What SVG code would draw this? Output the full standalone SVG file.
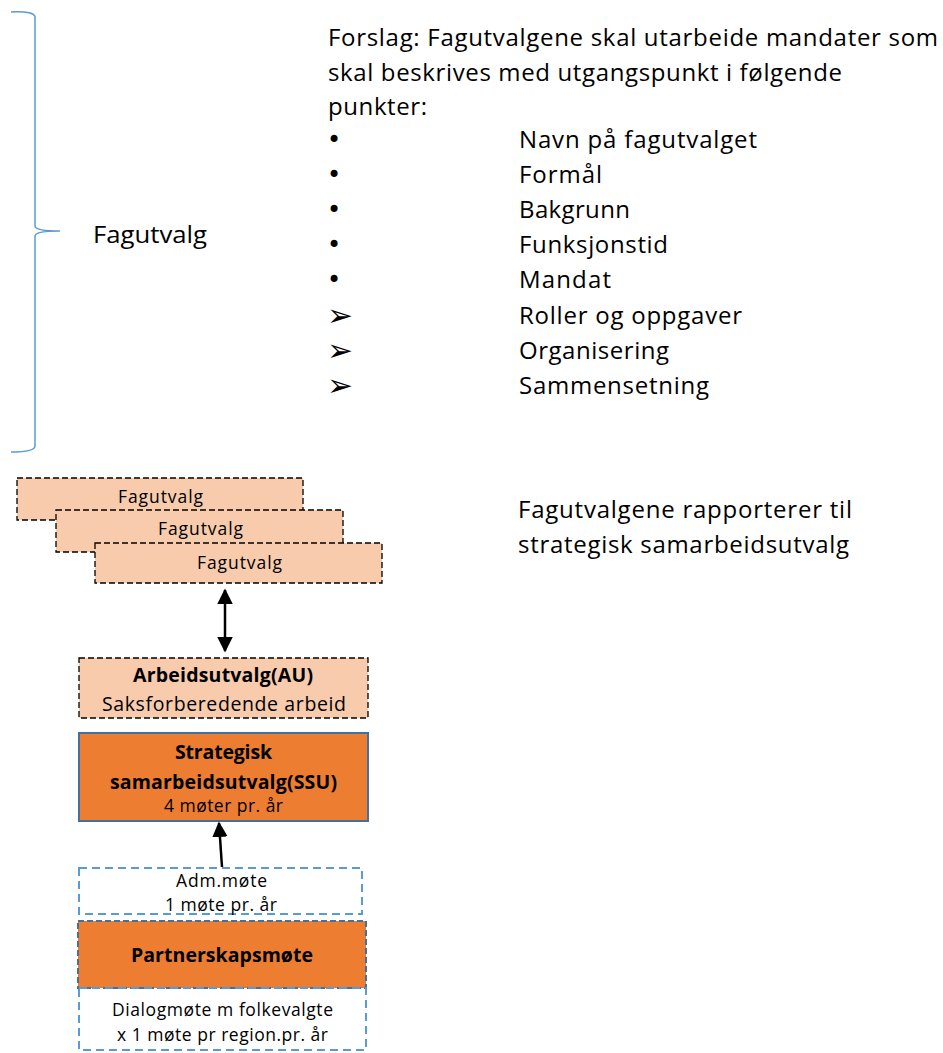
<svg xmlns="http://www.w3.org/2000/svg" width="943" height="1053" viewBox="0 0 943 1053">
<defs>
<style>
text{font-family:"Open Sans",Lato,"Liberation Sans",sans-serif;fill:#000}
.big{font-size:24px}
.mid{font-size:19.5px}
.sm{font-size:17.5px}
.b{font-weight:bold}
.dot{font-family:"DejaVu Sans",sans-serif;font-size:24px}
.arw{font-family:"DejaVu Sans",sans-serif;font-size:31px}
.fag{fill:#F8CBAD;stroke:#000;stroke-width:1.3;stroke-dasharray:6,3}
.org{fill:#ED7D31;stroke:#41719C;stroke-width:2}
.blue{fill:none;stroke:#5B9BD5;stroke-width:2;stroke-dasharray:8,5}
</style>
<marker id="ah" viewBox="0 0 10 10" refX="9" refY="5" markerWidth="6.2" markerHeight="6.4" orient="auto-start-reverse" markerUnits="strokeWidth">
<path d="M0,0 L10,5 L0,10 z" fill="#000"/>
</marker>
</defs>
<rect width="943" height="1053" fill="#fff"/>
<g id="brace">
<path d="M11,12 Q35,11 35,17 L35,226 Q35,231 60,231 Q35,231 35,236 L35,446 Q35,452 11,452" fill="none" stroke="#5B9BD5" stroke-width="1.5"/>
<text class="big" x="93" y="243" textLength="114" lengthAdjust="spacingAndGlyphs">Fagutvalg</text>
</g>
<g id="forslag" class="big">
<text x="328" y="46" textLength="610">Forslag: Fagutvalgene skal utarbeide mandater som</text>
<text x="328" y="81" textLength="514">skal beskrives med utgangspunkt i følgende</text>
<text x="328" y="115" textLength="99">punkter:</text>
<text class="dot" x="327" y="148">•</text><text x="519" y="148" textLength="238">Navn på fagutvalget</text>
<text class="dot" x="327" y="183">•</text><text x="519" y="183" textLength="83">Formål</text>
<text class="dot" x="327" y="218">•</text><text x="519" y="218" textLength="111">Bakgrunn</text>
<text class="dot" x="327" y="253">•</text><text x="519" y="253" textLength="149">Funksjonstid</text>
<text class="dot" x="327" y="288">•</text><text x="519" y="288" textLength="92">Mandat</text>
<text class="arw" x="327" y="326">➢</text><text x="519" y="324" textLength="223">Roller og oppgaver</text>
<text class="arw" x="327" y="361">➢</text><text x="519" y="359" textLength="150">Organisering</text>
<text class="arw" x="327" y="396">➢</text><text x="519" y="394" textLength="190">Sammensetning</text>
</g>
<g id="rapport" class="big">
<text x="518" y="518" textLength="334">Fagutvalgene rapporterer til</text>
<text x="518" y="553" textLength="331">strategisk samarbeidsutvalg</text>
</g>
<g id="fagutvalg1">
<rect class="fag" x="17" y="478" width="286" height="42"/>
<text class="sm" x="118" y="503" textLength="85">Fagutvalg</text>
</g>
<g id="fagutvalg2">
<rect class="fag" x="56" y="510" width="287" height="42"/>
<text class="sm" x="158" y="535" textLength="85">Fagutvalg</text>
</g>
<g id="fagutvalg3">
<rect class="fag" x="95" y="543" width="287" height="40"/>
<text class="sm" x="197" y="569" textLength="85">Fagutvalg</text>
</g>
<g id="au">
<rect class="fag" x="79" y="658" width="289" height="60"/>
<text class="mid b" x="133" y="682" textLength="180">Arbeidsutvalg(AU)</text>
<text class="mid" x="102" y="711" textLength="244">Saksforberedende arbeid</text>
</g>
<g id="ssu">
<rect class="org" x="79" y="733" width="289" height="88"/>
<text class="mid b" x="175" y="759" textLength="97">Strategisk</text>
<text class="mid b" x="110" y="789" textLength="227">samarbeidsutvalg(SSU)</text>
<text class="sm" x="164" y="812" textLength="119">4 møter pr. år</text>
</g>
<g id="adm">
<rect class="blue" x="79" y="868" width="283" height="46"/>
<text class="sm" x="176" y="887" textLength="91">Adm.møte</text>
<text class="sm" x="165" y="911" textLength="112">1 møte pr. år</text>
</g>
<g id="partner">
<rect x="78" y="921" width="288" height="67" fill="#ED7D31" stroke="#41719C" stroke-width="2" stroke-dasharray="6,3"/>
<text class="mid b" x="131" y="962" textLength="182">Partnerskapsmøte</text>
</g>
<g id="dialog">
<rect class="blue" x="79" y="988" width="287" height="62"/>
<text class="sm" x="112" y="1016" textLength="221">Dialogmøte m folkevalgte</text>
<text class="sm" x="117" y="1041" textLength="211">x 1 møte pr region.pr. år</text>
</g>
<g id="connectors" stroke="#000" stroke-width="2.5" fill="none">
<line x1="225" y1="590" x2="225" y2="651" marker-start="url(#ah)" marker-end="url(#ah)"/>
<line x1="222" y1="867" x2="219" y2="823" marker-end="url(#ah)"/>
</g>
</svg>
